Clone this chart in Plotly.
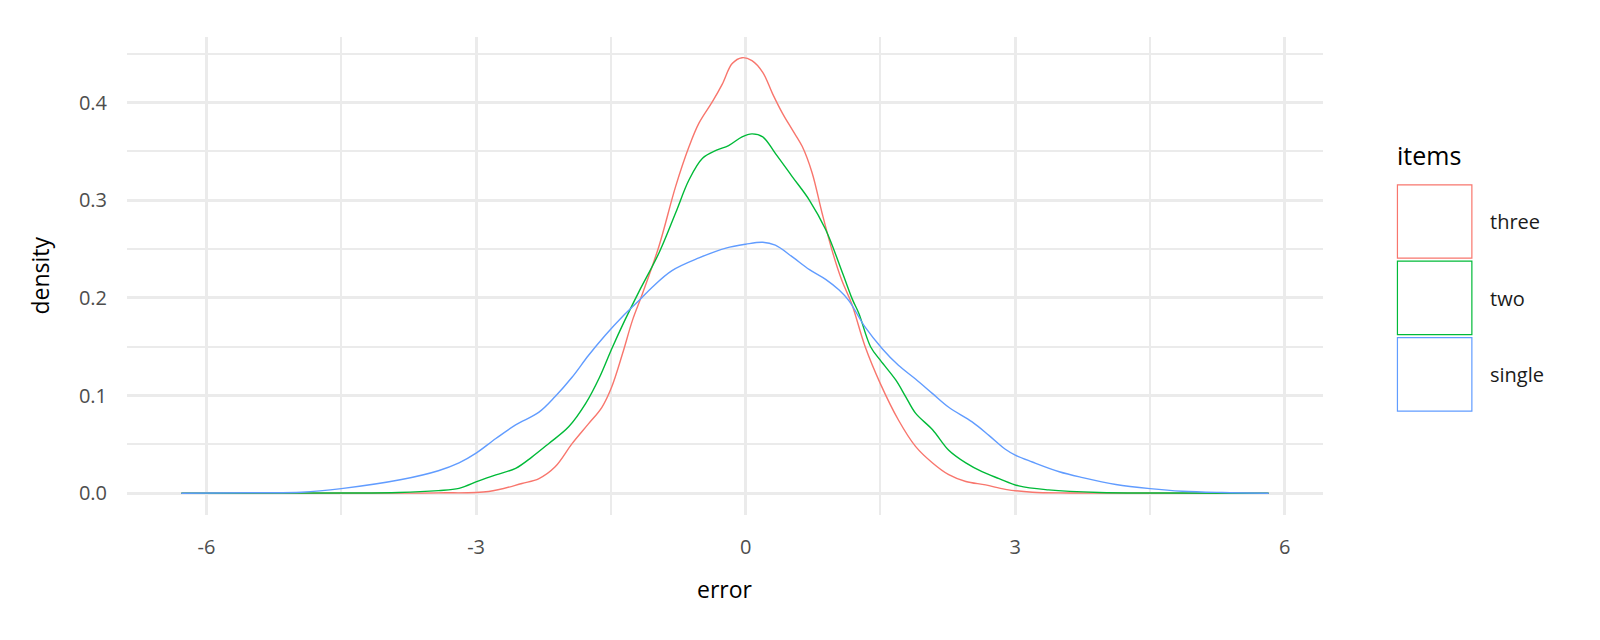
import plotly.graph_objects as go

# ---- data ----
three_x = [-6.28, -4.0, -3.42, -2.86, -2.49, -2.30, -2.12, -1.93, -1.75, -1.60, -1.49, -1.37, -1.26, -1.15,
           -0.965, -0.78, -0.63, -0.52, -0.37, -0.26, -0.15, -0.04, 0.07, 0.19, 0.30, 0.41, 0.52, 0.63, 0.74,
           0.85, 0.97, 1.07, 1.18, 1.33, 1.5, 1.70, 1.89, 2.08, 2.26, 2.45, 2.67, 2.89, 3.19, 3.6, 4.2, 5.82]
three_y = [0, 0.0001, 0.0004, 0.0017, 0.010, 0.015, 0.027, 0.051, 0.071, 0.088, 0.109, 0.143, 0.177, 0.204,
           0.253, 0.314, 0.355, 0.379, 0.401, 0.419, 0.44, 0.446, 0.443, 0.431, 0.409, 0.389, 0.372, 0.355, 0.328,
           0.287, 0.246, 0.218, 0.194, 0.15, 0.112, 0.075, 0.048, 0.031, 0.019, 0.012, 0.0085, 0.004, 0.001,
           0.0003, 0.0001, 0]

two_x = [-6.28, -4.5, -3.86, -3.42, -3.19, -2.97, -2.78, -2.56, -2.38, -2.19, -1.97, -1.78, -1.63, -1.49,
         -1.34, -1.19, -0.965, -0.78, -0.63, -0.48, -0.33, -0.19, -0.04, 0.07, 0.19, 0.33, 0.52, 0.71, 0.89,
         1.08, 1.19, 1.26, 1.39, 1.5, 1.67, 1.78, 1.89, 2.08, 2.26, 2.45, 2.63, 2.82, 3.04, 3.37, 3.93, 4.6, 5.82]
two_y = [0, 0.0002, 0.0007, 0.0027, 0.005, 0.0126, 0.0187, 0.0255, 0.037, 0.051, 0.068, 0.092, 0.118, 0.148,
         0.178, 0.206, 0.246, 0.287, 0.321, 0.343, 0.351, 0.356, 0.365, 0.368, 0.365, 0.348, 0.324, 0.30, 0.27,
         0.225, 0.198, 0.184, 0.15, 0.136, 0.116, 0.099, 0.082, 0.065, 0.044, 0.031, 0.022, 0.015, 0.0075,
         0.0034, 0.0007, 0.0002, 0]

single_x = [-6.28, -5.5, -4.94, -4.50, -3.83, -3.42, -3.19, -3.0, -2.78, -2.56, -2.30, -2.12, -1.93, -1.75,
            -1.56, -1.37, -1.19, -1.04, -0.82, -0.52, -0.22, 0.0, 0.19, 0.33, 0.52, 0.71, 0.89, 1.04, 1.15, 1.33,
            1.52, 1.70, 1.89, 2.08, 2.26, 2.52, 2.71, 2.89, 3.0, 3.19, 3.49, 3.75, 4.12, 4.5, 4.86, 5.3, 5.82]
single_y = [0, 0.0005, 0.001, 0.0047, 0.014, 0.023, 0.031, 0.041, 0.056, 0.070, 0.083, 0.099, 0.119, 0.141,
            0.162, 0.181, 0.197, 0.211, 0.228, 0.241, 0.251, 0.255, 0.257, 0.254, 0.242, 0.229, 0.219, 0.208,
            0.197, 0.17, 0.148, 0.131, 0.117, 0.102, 0.088, 0.073, 0.059, 0.045, 0.039, 0.032, 0.022, 0.016,
            0.009, 0.0047, 0.002, 0.0007, 0]

series_names = ["three", "two", "single"]
series_colors = ["#F8766D", "#00BA38", "#619CFF"]
x_ticks = [-6, -3, 0, 3, 6]
x_tick_labels = ["-6", "-3", "0", "3", "6"]
y_ticks = [0.0, 0.1, 0.2, 0.3, 0.4]
y_tick_labels = ["0.0", "0.1", "0.2", "0.3", "0.4"]

FONT = "'Open Sans', Lato, sans-serif"

fig = go.Figure()
data = {"three": (three_x, three_y), "two": (two_x, two_y), "single": (single_x, single_y)}
for name, col in zip(series_names, series_colors):
    xs, ys = data[name]
    fig.add_trace(go.Scatter(x=xs, y=ys, mode="lines", name=name,
                             line=dict(color=col, width=1.4, shape="spline", smoothing=1.0),
                             showlegend=False))

# panel geometry in page pixels; the page body has an 8px margin
S = 8
W, H = 1600, 640
L, R, T, B = 126.5 - S, 1323.5 - S, 36.7 - S, 515.3 - S
pw, ph = R - L, B - T


def px2paper(xp, yp):
    # xp, yp in screenshot pixels
    return (xp - S - L) / pw, (B - (yp - S)) / ph


shapes = []
annotations = []
# manual legend
box_tops = [184.7, 261.2, 337.8]
for name, col, top in zip(series_names, series_colors, box_tops):
    x0, y0 = px2paper(1398, top + 73.5)
    x1, y1 = px2paper(1472.5, top)
    shapes.append(dict(type="rect", xref="paper", yref="paper", x0=x0, x1=x1, y0=y0, y1=y1,
                       line=dict(color=col, width=1.2), fillcolor="white"))
    lx, ly = px2paper(1489, top + 37)
    annotations.append(dict(xref="paper", yref="paper", x=lx, y=ly, text=name, showarrow=False,
                            xanchor="left", yanchor="middle",
                            font=dict(family=FONT, size=20, color="#1a1a1a")))
tx, ty = px2paper(1396, 155)
annotations.append(dict(xref="paper", yref="paper", x=tx, y=ty, text="items", showarrow=False,
                        xanchor="left", yanchor="middle",
                        font=dict(family=FONT, size=25, color="#000000")))
# axis titles
ex, ey = px2paper((126.5 + 1323.5) / 2, 589)
annotations.append(dict(xref="paper", yref="paper", x=ex, y=ey, text="error", showarrow=False,
                        xanchor="center", yanchor="middle",
                        font=dict(family=FONT, size=23, color="#000000")))
dx, dy = px2paper(39, (36.7 + 515.3) / 2)
annotations.append(dict(xref="paper", yref="paper", x=dx, y=dy, text="density", showarrow=False,
                        xanchor="center", yanchor="middle", textangle=-90,
                        font=dict(family=FONT, size=23, color="#000000")))

fig.update_layout(
    width=W, height=H,
    margin=dict(l=L, r=W - R, t=T, b=H - B),
    paper_bgcolor="white", plot_bgcolor="white",
    font=dict(family=FONT, color="#4d4d4d"),
    shapes=shapes, annotations=annotations,
    showlegend=False,
)
fig.update_xaxes(
    range=[-6.885, 6.425], tickvals=x_ticks, ticktext=x_tick_labels,
    showgrid=True, gridcolor="#ebebeb", gridwidth=3.4,
    minor=dict(showgrid=True, gridcolor="#ebebeb", gridwidth=1.8, dtick=1.5, tick0=-6),
    zeroline=False, showline=False, ticks="",
    tickfont=dict(family=FONT, size=20, color="#4d4d4d"), ticklabelstandoff=18,
)
fig.update_yaxes(
    range=[-0.0223, 0.4672], tickvals=y_ticks, ticktext=y_tick_labels,
    showgrid=True, gridcolor="#ebebeb", gridwidth=3.4,
    minor=dict(showgrid=True, gridcolor="#ebebeb", gridwidth=1.8, dtick=0.05, tick0=0),
    zeroline=False, showline=False, ticks="",
    tickfont=dict(family=FONT, size=20, color="#4d4d4d"), ticklabelstandoff=19,
)

fig.write_html("out.html")
